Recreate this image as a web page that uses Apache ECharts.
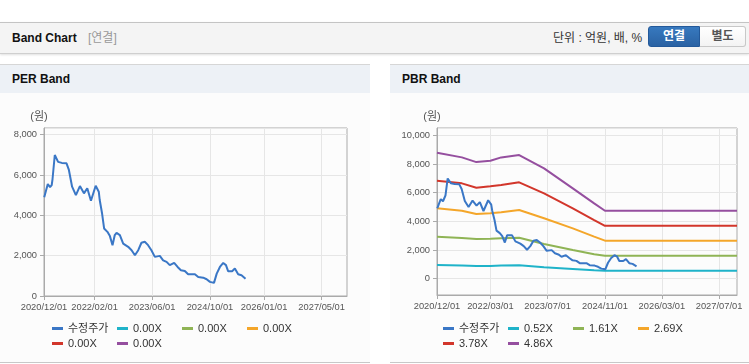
<!DOCTYPE html>
<html>
<head>
<meta charset="utf-8">
<script src="https://cdn.jsdelivr.net/npm/echarts@6/dist/echarts.min.js"></script>
<style>
  body { margin: 0; width: 749px; height: 364px; overflow: hidden; background: #fff;
    font-family: "Liberation Sans", "Noto Sans CJK KR", sans-serif; }
  .topbar { position: absolute; left: 0; top: 22px; width: 749px; height: 30px; background: #f4f4f4;
    border-top: 1px solid #c4c4c4; border-bottom: 1px solid #cfcfcf; box-shadow: 0 1px 2px rgba(0,0,0,.12); }
  .topbar span { position: absolute; top: 0; line-height: 30px; font-size: 12px; white-space: nowrap; }
  .ttl { left: 12px; font-weight: bold; color: #111; }
  .sub { left: 88px; color: #999; }
  .unit { left: 553px; color: #333; }
  .btn { position: absolute; top: 3px; height: 21px; box-sizing: border-box; font-size: 12px; font-weight: bold;
    line-height: 19px; text-align: center; }
  .on { left: 648px; width: 52px; color: #fff; background: linear-gradient(#3779bf, #2a62a3);
    border: 1px solid #23599a; border-radius: 3px 0 0 3px; }
  .off { left: 700px; width: 46px; color: #555; background: linear-gradient(#fff, #f3f3f3);
    border: 1px solid #c8c8c8; border-left: none; border-radius: 0 3px 3px 0; }
  .panel { position: absolute; top: 64px; height: 297px; background: #fcfcfc;
    border-top: 1px solid #d6d6d6; border-bottom: 1px solid #c8c8c8; }
  .ph { height: 28px; background: #edf1f6; font-size: 12px; font-weight: bold; line-height: 28px;
    padding-left: 12px; color: #111; }
  #chart { position: absolute; left: 0; top: 0; width: 749px; height: 364px; }
</style>
</head>
<body>
<div class="topbar">
  <span class="ttl">Band Chart</span>
  <span class="sub">[연결]</span>
  <span class="unit">단위 : 억원, 배, %</span>
  <div class="btn on">연결</div>
  <div class="btn off">별도</div>
</div>
<div class="panel" style="left:0;width:370px"><div class="ph">PER Band</div></div>
<div class="panel" style="left:390px;width:359px"><div class="ph">PBR Band</div></div>
<div id="chart"></div>
<script>
// x축 눈금
const perTicks = ["2020/12/01", "2022/02/01", "2023/06/01", "2024/10/01", "2026/01/01", "2027/05/01"];
const pbrTicks = ["2020/12/01", "2022/03/01", "2023/07/01", "2024/11/01", "2026/03/01", "2027/07/01"];

// 수정주가
const priceDates = [
  "2020-12-03", "2021-01-02", "2021-01-21", "2021-02-04", "2021-02-11", "2021-03-02", "2021-03-30",
  "2021-04-30", "2021-06-09", "2021-06-29", "2021-07-26", "2021-08-27", "2021-09-30", "2021-11-03",
  "2021-12-01", "2022-01-01", "2022-02-10", "2022-03-08", "2022-03-16", "2022-04-05", "2022-04-22",
  "2022-05-20", "2022-06-10", "2022-07-02", "2022-07-21", "2022-08-05", "2022-09-02", "2022-09-30",
  "2022-11-11", "2022-12-10", "2023-01-07", "2023-02-04", "2023-03-03", "2023-03-31", "2023-04-28",
  "2023-05-26", "2023-06-24", "2023-07-08", "2023-08-05", "2023-09-02", "2023-10-01", "2023-10-28",
  "2023-12-04", "2024-01-02", "2024-01-30", "2024-03-03", "2024-03-31", "2024-05-27", "2024-06-24",
  "2024-08-05", "2024-09-03", "2024-10-01", "2024-11-04", "2024-11-27", "2024-12-24", "2025-01-21",
  "2025-02-13", "2025-03-03", "2025-04-06", "2025-04-29", "2025-05-27", "2025-06-24", "2025-07-28"
];
const priceValues = [
  4900, 5550, 5400, 5500, 5800, 6990, 6650,
  6600, 6580, 6250, 5420, 5000, 5450, 5090,
  5340, 4720, 5470, 5170, 4760, 4090, 3350,
  3180, 2970, 2520, 3020, 3130, 3020, 2600,
  2440, 2270, 2020, 2270, 2640, 2690, 2520,
  2270, 1940, 1860, 1990, 1770, 1690, 1530,
  1640, 1440, 1280, 1240, 1080, 1080, 940,
  910, 830, 700, 650, 1110, 1440, 1640,
  1530, 1230, 1230, 1360, 1080, 1030, 860
];

// PBR 밴드
const bandDates = ["2020-12-01", "2021-07-01", "2021-11-01", "2022-03-01", "2022-06-01", "2022-11-01",
  "2023-06-01", "2024-02-01", "2024-08-01", "2024-11-01", "2027-12-01"];
const band052 = [955, 920, 885, 890, 910, 930, 790, 675, 590, 560, 560];
const band161 = [2930, 2830, 2770, 2790, 2820, 2860, 2420, 2000, 1700, 1600, 1600];
const band269 = [4910, 4740, 4510, 4560, 4630, 4790, 4210, 3510, 2930, 2650, 2650];
const band378 = [6830, 6650, 6340, 6440, 6530, 6720, 5950, 4910, 4090, 3690, 3690];
const band486 = [8780, 8460, 8130, 8220, 8460, 8620, 7690, 6300, 5250, 4740, 4740];

// PER 밴드 (값 없음)
const perBandNames = ["0.00X", "0.00X ", "0.00X  ", "0.00X   ", "0.00X    "];
const pbrBandNames = ["0.52X", "1.61X", "2.69X", "3.78X", "4.86X"];
const bandColors = ["#1fb3c9", "#8fb455", "#f4a62a", "#d2362b", "#954f9f"];
const priceColor = "#3a77c6";

const FONT = "Liberation Sans, Noto Sans CJK KR, sans-serif";

// "2020-12-01" / "2020/12/01" -> timestamp
const ts = (s) => {
  const p = s.split(/[-\/]/).map(Number);
  return Date.UTC(p[0], p[1] - 1, p[2]);
};
const fmtDate = (v) => {
  const d = new Date(v);
  const mm = String(d.getUTCMonth() + 1).padStart(2, "0");
  const dd = String(d.getUTCDate()).padStart(2, "0");
  return d.getUTCFullYear() + "/" + mm + "/" + dd;
};
const pairs = (xs, ys) => xs.map((d, i) => [ts(d), ys[i]]);

const chart = echarts.init(document.getElementById("chart"));

const xAxisOf = (idx, ticks) => ({
  type: "value",
  gridIndex: idx,
  min: ts("2020-12-01"),
  max: ts("2027-12-01"),
  axisLine: { onZero: false, lineStyle: { color: "#aaa" } },
  axisTick: { show: true, length: 4, lineStyle: { color: "#aaa" }, customValues: ticks.map(ts) },
  axisLabel: {
    customValues: ticks.map(ts),
    color: "#555", fontSize: 9.3, fontFamily: FONT, margin: 7,
    formatter: fmtDate,
  },
  splitLine: { show: true, lineStyle: { color: "#e6e6e6" } },
});

const yAxisOf = (idx, min, max) => ({
  type: "value",
  gridIndex: idx,
  min: min,
  max: max,
  name: "(원)",
  nameLocation: "end",
  nameGap: 6,
  nameTextStyle: { color: "#555", fontSize: 11, fontFamily: FONT, padding: [0, 10, 0, 0] },
  axisLine: { show: true, lineStyle: { color: "#aaa" } },
  axisTick: { show: true, length: 4, lineStyle: { color: "#aaa" } },
  axisLabel: {
    color: "#555", fontSize: 9.3, fontFamily: FONT, margin: 7,
    showMinLabel: min === 0, showMaxLabel: false,
    formatter: (v) => v.toLocaleString("en-US"),
  },
  splitLine: { lineStyle: { color: "#e6e6e6" } },
});

const legendOf = (left, names) => ({
  left: left,
  top: 322,
  width: 265,
  padding: 0,
  icon: "rect",
  itemWidth: 11,
  itemHeight: 3,
  itemGap: 2,
  textStyle: { color: "#333", fontSize: 11, fontFamily: FONT, width: 47, lineHeight: 13 },
  formatter: (n) => n.trim(),
  data: ["수정주가"].concat(names),
});

const lineOf = (name, idx, data, color, z) => ({
  name: name,
  type: "line",
  xAxisIndex: idx,
  yAxisIndex: idx,
  data: data,
  symbol: "none",
  z: z || 2,
  itemStyle: { color: color },
  lineStyle: { color: color, width: 2 },
});

const series = [lineOf("수정주가", 0, pairs(priceDates, priceValues), priceColor, 3)];
perBandNames.forEach((n, i) => series.push(lineOf(n, 0, [], bandColors[i])));
series.push(lineOf("수정주가", 1, pairs(priceDates, priceValues), priceColor, 3));
[band052, band161, band269, band378, band486].forEach((b, i) =>
  series.push(lineOf(pbrBandNames[i], 1, pairs(bandDates, b), bandColors[i])));

chart.setOption({
  animation: false,
  grid: [
    { left: 44, top: 128, width: 303, height: 168, show: true, borderColor: "#aaa", borderWidth: 1 },
    { left: 437, top: 128, width: 300, height: 167, show: true, borderColor: "#aaa", borderWidth: 1 },
  ],
  xAxis: [xAxisOf(0, perTicks), xAxisOf(1, pbrTicks)],
  yAxis: [yAxisOf(0, 0, 8330), yAxisOf(1, -1140, 10510)],
  legend: [legendOf(52, perBandNames), legendOf(443, pbrBandNames)],
  tooltip: { trigger: "axis" },
  series: series,
});
</script>
</body>
</html>
